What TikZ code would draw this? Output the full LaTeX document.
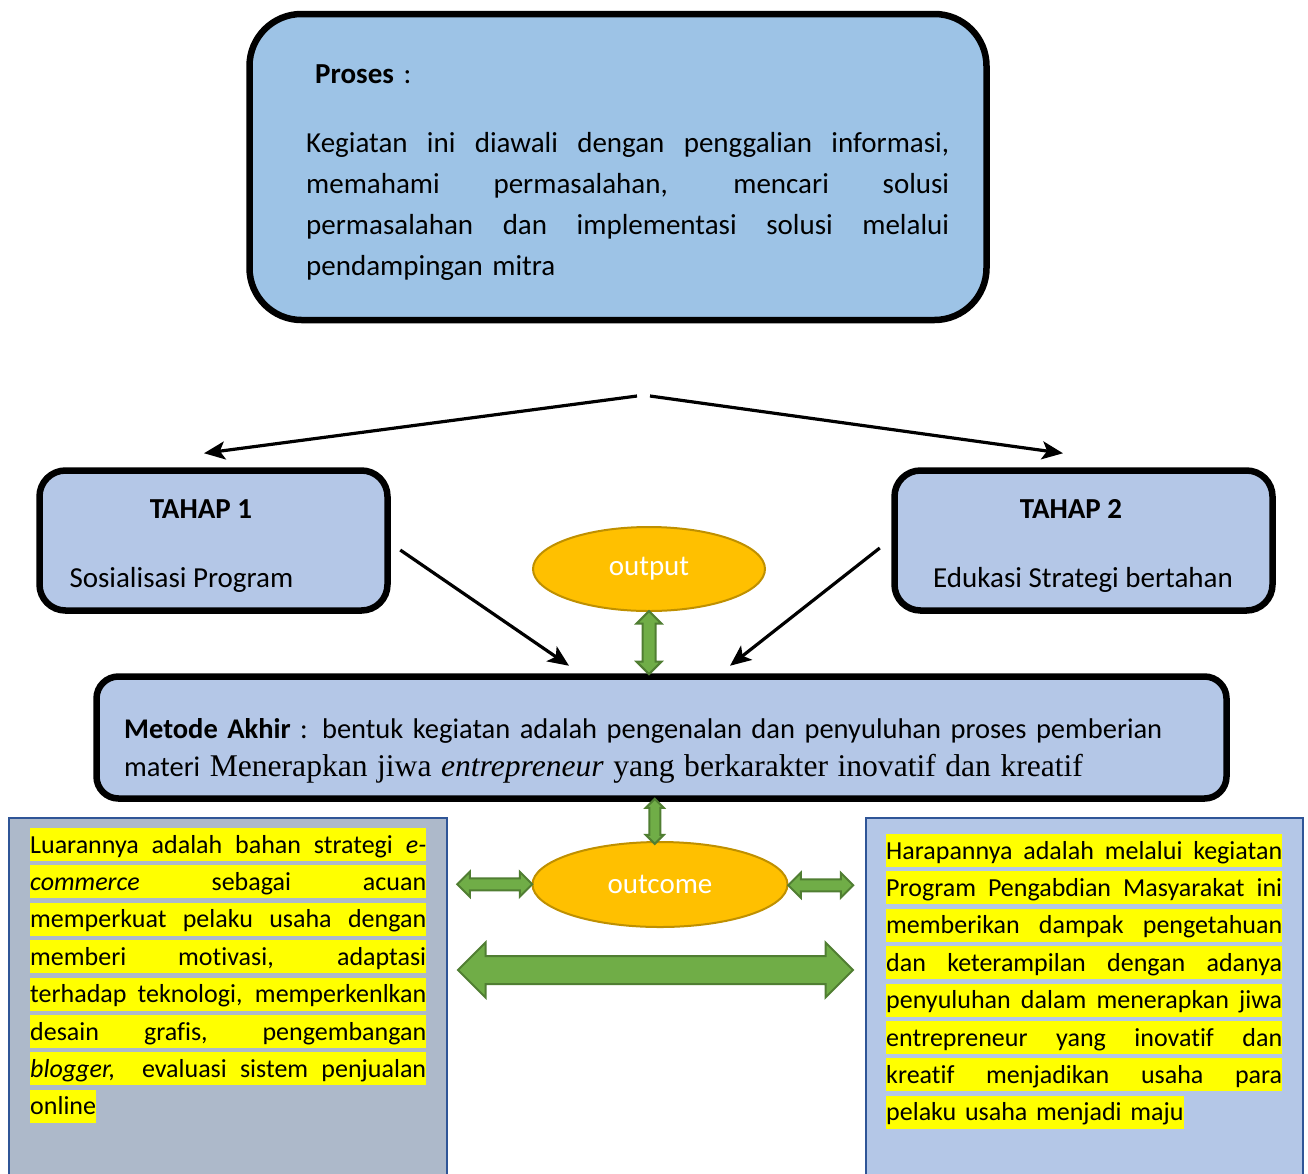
\documentclass[tikz,border=0pt]{standalone}
\usepackage{fontspec}
\setmainfont{Carlito}[Ligatures=NoCommon]
\newfontfamily\timesfont{Liberation Serif}
\usetikzlibrary{arrows.meta,shapes.geometric,shapes.arrows,calc}

\definecolor{prosesblue}{HTML}{9DC3E6}
\definecolor{tahapblue}{HTML}{B4C7E7}
\definecolor{outgray}{HTML}{ADB9CA}
\definecolor{edgeblue}{HTML}{2F5597}
\definecolor{gold}{HTML}{FFC000}
\definecolor{golddark}{HTML}{BF9000}
\definecolor{leaf}{HTML}{70AD47}
\definecolor{leafdark}{HTML}{507E32}
\definecolor{hl}{HTML}{FFFF00}

% justified line of a given width (spaces stretch or shrink)
\newcommand{\jrow}[2]{\leavevmode\hbox to #1{\spaceskip=.226em plus 1fil minus .1em\relax #2}}
% highlighted, justified line and the last (natural) line
\newcommand{\hlrow}[1]{\colorbox{hl}{\jrow{396pt}{\rule[-8pt]{0pt}{33pt}#1}}}
\newcommand{\hlend}[1]{\colorbox{hl}{\rule[-8pt]{0pt}{33pt}#1}}

\begin{document}
\begin{tikzpicture}[x=1pt,y=-1pt,
    bigbox/.style={draw,line width=6.5pt,rectangle,inner sep=0pt},
    eggnode/.style={ellipse,draw=golddark,line width=2pt,fill=gold,text=white,font=\fontsize{29}{34}\selectfont,inner sep=0pt},
    outbox/.style={rectangle,draw=edgeblue,line width=2pt,inner sep=0pt},
    blackarr/.style={-{Stealth[length=21pt,width=18pt,inset=5pt]},line width=3.2pt},
    greenarr/.style={double arrow,draw=leafdark,fill=leaf,line width=2pt,minimum width=0pt,inner xsep=0pt}]
    \useasboundingbox (0,0) rectangle (1308,1173);

    % boxes
    \node[bigbox,fill=prosesblue,rounded corners=52pt,minimum width=737pt,minimum height=306pt] (proses) at (618,167){};
    \node[bigbox,fill=tahapblue,rounded corners=26pt,minimum width=348pt,minimum height=140pt] (t1) at (213.5,540.5){};
    \node[bigbox,fill=tahapblue,rounded corners=26pt,minimum width=378pt,minimum height=140pt] (t2) at (1083.5,540.5){};
    \node[bigbox,fill=tahapblue,rounded corners=22pt,minimum width=1130pt,minimum height=122pt] (metode) at (661.5,737.5){};
    \node[outbox,fill=outgray,minimum width=438pt,minimum height=362pt] (lbox) at (228,999){};
    \node[outbox,fill=tahapblue,minimum width=437pt,minimum height=362pt] (rbox) at (1084.5,999){};

    \node[eggnode,minimum width=232pt,minimum height=84pt] (output) at (649,569){output};
    \node[eggnode,minimum width=255pt,minimum height=85pt] (outcome) at (660,884.5){outcome};

    % texts
    \node[anchor=base west,text width=643pt,align=left,inner sep=0pt,font=\fontsize{29}{41}\selectfont] (prosestxt) at (306,83){%
        \hspace*{9pt}\textbf{Proses} :\\[28pt]
        \jrow{643pt}{Kegiatan ini diawali dengan penggalian informasi,}\\
        \jrow{643pt}{memahami permasalahan, mencari solusi}\\
        \jrow{643pt}{permasalahan dan implementasi solusi melalui}\\
        pendampingan mitra};
    \node[anchor=base,font=\fontsize{29}{34}\selectfont\bfseries] (t1head) at (201,518){TAHAP 1};
    \node[anchor=base west,font=\fontsize{29}{34}\selectfont] (t1txt) at (66,587){Sosialisasi Program};
    \node[anchor=base,font=\fontsize{29}{34}\selectfont\bfseries] (t2head) at (1071,518){TAHAP 2};
    \node[anchor=base,font=\fontsize{29}{34}\selectfont] (t2txt) at (1083,587){Edukasi Strategi bertahan};
    \node[anchor=base west,text width=1090pt,align=left,inner sep=0pt,font=\fontsize{28.5}{38}\selectfont] (metodetxt) at (124,738){%
        \textbf{Metode Akhir} : bentuk kegiatan adalah pengenalan dan penyuluhan proses pemberian\\
        materi {\timesfont\fontsize{31.6}{38}\selectfont Menerapkan jiwa \textit{entrepreneur} yang berkarakter inovatif dan kreatif}};
    \node[anchor=base west,text width=396pt,align=left,inner sep=0pt,font=\fontsize{26}{37.4}\selectfont] (ltxt) at (30,853){%
        \setlength{\fboxsep}{0pt}%
        \hlrow{Luarannya adalah bahan strategi \textit{e-}}\\
        \hlrow{\textit{commerce} sebagai acuan}\\
        \hlrow{memperkuat pelaku usaha dengan}\\
        \hlrow{memberi motivasi, adaptasi}\\
        \hlrow{terhadap teknologi, memperkenlkan}\\
        \hlrow{desain grafis, pengembangan}\\
        \hlrow{\textit{blogger,}\ \ evaluasi sistem penjualan}\\
        \hlend{online}};
    \node[anchor=base west,text width=396pt,align=left,inner sep=0pt,font=\fontsize{26}{37.4}\selectfont] (rtxt) at (886,859){%
        \setlength{\fboxsep}{0pt}%
        \hlrow{Harapannya adalah melalui kegiatan}\\
        \hlrow{Program Pengabdian Masyarakat ini}\\
        \hlrow{memberikan dampak pengetahuan}\\
        \hlrow{dan keterampilan dengan adanya}\\
        \hlrow{penyuluhan dalam menerapkan jiwa}\\
        \hlrow{entrepreneur yang inovatif dan}\\
        \hlrow{kreatif menjadikan usaha para}\\
        \hlend{pelaku usaha menjadi maju}};

    % black connectors
    \coordinate (sl) at (637,396);
    \coordinate (sr) at (650,396);
    \draw[blackarr] (sl) -- ([shift={(-9.5,-14)}]t1.north);
    \draw[blackarr] (sr) -- ([shift={(-20.5,-14)}]t2.north);
    \draw[blackarr] ([shift={(9.5,9.5)}]t1.east) -- ([shift={(-92.5,-7.5)}]metode.north);
    \draw[blackarr] ([shift={(-11.5,7.5)}]t2.west) -- ([shift={(68.5,-7.5)}]metode.north);

    % green block arrows
    \node[greenarr,rotate=90,inner ysep=5.5pt,double arrow head extend=6pt,minimum height=63pt] (oarrow) at ($(output.south)!0.5!(output.south|-metode.north)$){};
    \node[greenarr,rotate=90,inner ysep=4.5pt,double arrow head extend=3.5pt,minimum height=45pt] (uarrow) at ([xshift=-6pt]$(metode.south)!0.5!(outcome.north)$){};
    \coordinate (lend) at (458,884);
    \coordinate (rend) at (853,886);
    \node[greenarr,inner ysep=5pt,double arrow head extend=6.5pt,minimum height=75pt] (larrow) at ($(lend)!0.5!(outcome.west)$){};
    \node[greenarr,inner ysep=5pt,double arrow head extend=6.5pt,minimum height=65pt] (rarrow) at ($(outcome.east)!0.5!(rend)$){};
    \node[greenarr,inner ysep=13pt,double arrow head extend=13.5pt,minimum height=395pt] (bigarrow) at (655.5,970){};
\end{tikzpicture}
\end{document}
